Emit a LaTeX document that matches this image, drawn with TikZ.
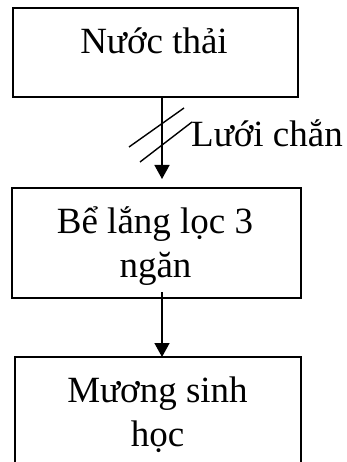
\documentclass[tikz,border=0pt]{standalone}
\usepackage{fontspec}
\setmainfont{Liberation Serif}
\usetikzlibrary{arrows.meta}
\begin{document}
\begin{tikzpicture}[x=1pt,y=-1pt,
  box/.style={draw,line width=1.6pt,minimum width=#1,inner sep=0pt},
  txt/.style={font=\fontsize{37}{44}\selectfont,inner sep=0pt,anchor=base},
  conn/.style={line width=1.6pt,-{Triangle[width=15pt,length=14pt]}},
  slash/.style={line width=1.4pt}]
\clip (0,0) rectangle (347,462);
\fill[white] (0,0) rectangle (347,462);
% boxes
\node[box=285pt,minimum height=89pt] (b1) at (155.5,52.5) {};
\node[box=289pt,minimum height=110pt] (b2) at (156.5,243) {};
\node[box=286pt,minimum height=114pt] (b3) at (158,414) {};
% texts
\node[txt] (t1) at (154,54) {Nước thải};
\node[txt] (t2a) at (155,233) {Bể lắng lọc 3};
\node[txt] (t2b) at (155.5,277) {ngăn};
\node[txt] (t3a) at (157.5,402) {Mương sinh};
\node[txt] (t3b) at (157.5,446) {học};
\node[txt,anchor=base west] (lc) at (191,147) {Lưới chắn};
% connectors
\coordinate (a1s) at (162,97);
\coordinate (a1e) at (162,179);
\coordinate (a2s) at (162,292);
\coordinate (a2e) at (162,357);
\draw[conn] (a1s) -- (a1e);
\draw[conn] (a2s) -- (a2e);
% screen marks
\coordinate (s1a) at (129,147);
\coordinate (s1b) at (184,108);
\coordinate (s2a) at (140,162);
\coordinate (s2b) at (192,122);
\draw[slash] (s1a) -- (s1b);
\draw[slash] (s2a) -- (s2b);
\end{tikzpicture}
\end{document}
